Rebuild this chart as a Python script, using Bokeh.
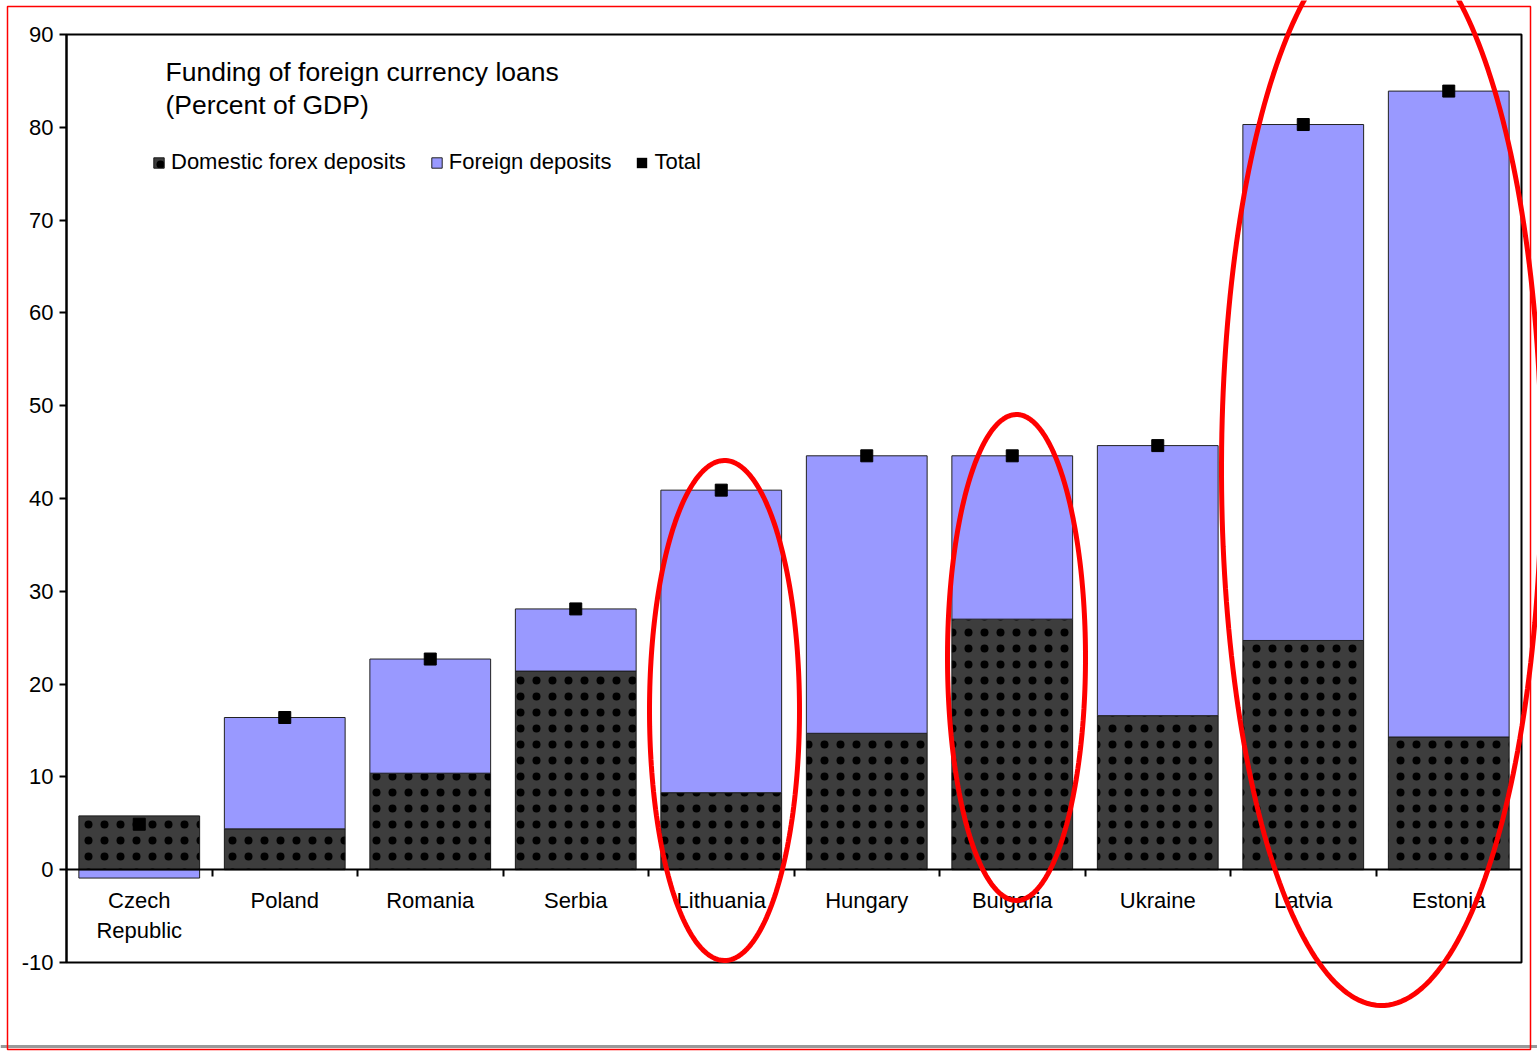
import numpy as np
from bokeh.plotting import figure
from bokeh.models import (FixedTicker, Range1d, PolyAnnotation, BoxAnnotation, Span, Label,
                          Legend, LegendItem, ColumnDataSource)
from bokeh.embed import file_html
from bokeh.resources import INLINE

# ---------------- data ----------------
countries = ["Czech\nRepublic", "Poland", "Romania", "Serbia", "Lithuania",
             "Hungary", "Bulgaria", "Ukraine", "Latvia", "Estonia"]
domestic = [5.8, 4.4, 10.4, 21.4, 8.3, 14.7, 27.0, 16.6, 24.7, 14.3]
foreign = [-0.9, 12.0, 12.3, 6.7, 32.6, 29.9, 17.6, 29.1, 55.6, 69.6]
y_ticks = [-10, 0, 10, 20, 30, 40, 50, 60, 70, 80, 90]
title_lines = ["Funding of foreign currency loans", "(Percent of GDP)"]
series_names = ["Domestic forex deposits", "Foreign deposits", "Total"]

# ---------------- layout ----------------
W, H = 1537, 1052
L, R, T, B = 66, 16, 34, 90          # plot box inside the canvas
X0, X1 = 0, len(countries)
Y0, Y1 = -10, 90
SX = (W - L - R) / (X1 - X0)
SY = (H - T - B) / (Y1 - Y0)
FONT = "Liberation Sans"


def dx(px):
    return X0 + (px - L) / SX


def dy(py):
    return Y1 - (py - T) / SY


xc = [i + 0.5 for i in range(len(countries))]
total = [d + f for d, f in zip(domestic, foreign)]
f_bottom = [0 if f < 0 else d for d, f in zip(domestic, foreign)]
f_top = [b + f for b, f in zip(f_bottom, foreign)]

src = ColumnDataSource(dict(x=xc, dom=domestic, fb=f_bottom, ft=f_top, tot=total))

p = figure(width=W, height=H, x_range=Range1d(dx(0), dx(W)), y_range=Range1d(dy(H), dy(0)),
           output_backend="svg", toolbar_location=None, min_border=0,
           background_fill_color="white", border_fill_color="white")
p.title.visible = False
p.grid.visible = False
p.outline_line_color = None

bw = 0.83
r_dom = p.vbar(x="x", top="dom", bottom=0, width=bw, source=src,
               fill_color="#3d3d3d", line_color="#1a1a1a", line_width=1,
               hatch_pattern="dot", hatch_color="black", hatch_scale=16, hatch_weight=4.5)
r_for = p.vbar(x="x", top="ft", bottom="fb", width=bw, source=src,
               fill_color="#9999FF", line_color="#222222", line_width=1)
r_tot = p.scatter(x="x", y="tot", source=src, marker="square", size=12,
                  fill_color="black", line_color="black")
# zero-height bars at the totals: invisible in the plot, give the legend a full square key
r_tot_key = p.vbar(x="x", top="tot", bottom="tot", width=bw, source=src,
                   fill_color="black", line_color=None)

# plot box
p.add_layout(BoxAnnotation(left=X0, right=X1, bottom=Y0, top=Y1, fill_alpha=0,
                           fill_color=None, line_color="black", line_width=2, line_alpha=1))

# y axis
ya = p.yaxis[0]
ya.fixed_location = X0
ya.bounds = (Y0, Y1)
ya.ticker = FixedTicker(ticks=y_ticks)
ya.major_label_overrides = {v: str(v) for v in y_ticks}
ya.axis_line_width = 2
ya.major_tick_line_width = 2
ya.major_tick_out = 7
ya.major_tick_in = 0
ya.minor_tick_line_color = None
ya.major_label_text_font = FONT
ya.major_label_text_font_size = "22px"
ya.major_label_text_color = "black"
ya.major_label_standoff = 6

# x axis at y = 0
xa = p.xaxis[0]
xa.fixed_location = 0
xa.bounds = (X0, X1)
xa.ticker = FixedTicker(ticks=xc, minor_ticks=list(range(1, len(countries))))
xa.major_label_overrides = {x: c for x, c in zip(xc, countries)}
xa.axis_line_width = 2
xa.major_tick_line_color = None
xa.major_tick_out = 0
xa.major_tick_in = 0
xa.minor_tick_line_width = 2
xa.minor_tick_out = 7
xa.minor_tick_in = 0
xa.major_label_text_font = FONT
xa.major_label_text_font_size = "22px"
xa.major_label_text_color = "black"
xa.major_label_standoff = 11

# title
for i, t in enumerate(title_lines):
    p.add_layout(Label(x=dx(165), y=dy(71 + 33 * i), text=t, text_baseline="middle",
                       text_font=FONT, text_font_size="26.5px", text_color="black"))

legend = Legend(items=[LegendItem(label=series_names[0], renderers=[r_dom]),
                       LegendItem(label=series_names[1], renderers=[r_for]),
                       LegendItem(label=series_names[2], renderers=[r_tot_key])],
                orientation="horizontal", location=(152, H - 175),
                border_line_color=None, background_fill_alpha=0,
                label_text_font=FONT, label_text_font_size="22px", label_text_color="black",
                glyph_width=13, glyph_height=13, label_standoff=6, spacing=24,
                padding=0, margin=0)
p.add_layout(legend)

# red ellipses (annotation)
ell = [(dx(724), dy(710), 75 / SX, 250 / SY),
       (dx(1016), dy(657), 69 / SX, 243 / SY),
       (dx(1381), dy(469), 160 / SX, 536 / SY)]
t = np.linspace(0, 2 * np.pi, 240)
for cx, cy, a, b in ell:
    p.add_layout(PolyAnnotation(xs=list(cx + a * np.cos(t)), ys=list(cy + b * np.sin(t)),
                                fill_color=None, fill_alpha=0, line_color="red",
                                line_alpha=1, line_width=5, level="overlay"))

# page decorations: gray rule and red frame
p.add_layout(Span(location=dy(1046), dimension="width", line_color="#999999",
                  line_width=3, level="overlay"))
p.add_layout(BoxAnnotation(left=dx(7), right=dx(1530), top=dy(6), bottom=dy(1049),
                           fill_alpha=0, fill_color=None, line_color="red", line_alpha=1,
                           line_width=1.5, level="overlay"))

open("out.html", "w").write(file_html(p, INLINE))
